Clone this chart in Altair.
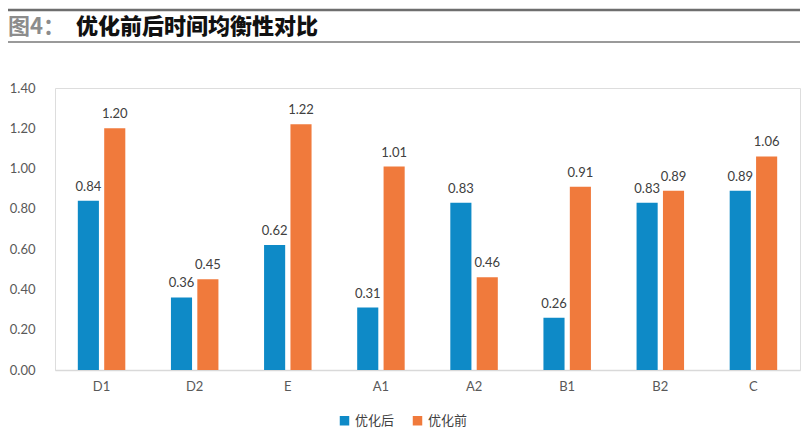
import altair as alt
import pandas as pd

categories = ["D1", "D2", "E", "A1", "A2", "B1", "B2", "C"]
after_vals = [0.84, 0.36, 0.62, 0.31, 0.83, 0.26, 0.83, 0.89]
before_vals = [1.20, 0.45, 1.22, 1.01, 0.46, 0.91, 0.89, 1.06]
series = ["优化后", "优化前"]
colors = ["#0e8ac7", "#f07a3c"]
y_ticks = [0, 0.2, 0.4, 0.6, 0.8, 1.0, 1.2, 1.4]

rows = []
for c, a, b in zip(categories, after_vals, before_vals):
    rows.append({"cat": c, "series": series[0], "value": a})
    rows.append({"cat": c, "series": series[1], "value": b})
df = pd.DataFrame(rows)

FONT = "Lato, 'Noto Sans CJK SC', sans-serif"
CJK = "'Noto Sans CJK SC', sans-serif"

base = alt.Chart(df).encode(
    x=alt.X("cat:N", sort=categories, title=None,
            scale=alt.Scale(paddingInner=0.49, paddingOuter=0.245),
            axis=alt.Axis(labelAngle=0, ticks=False, domain=True, domainColor="#d9d9d9",
                          domainWidth=1.5, labelColor="#595959", labelFontSize=13,
                          labelFont=FONT, labelPadding=10)),
    xOffset=alt.XOffset("series:N", sort=series,
                        scale=alt.Scale(paddingInner=0.2, paddingOuter=0)),
    y=alt.Y("value:Q", title=None,
            scale=alt.Scale(domain=[0, 1.4], nice=False),
            axis=alt.Axis(values=y_ticks, format=".2f", grid=False, domain=False, ticks=False,
                          labelColor="#595959", labelFontSize=13, labelFont=FONT,
                          labelPadding=20)),
)

bars = base.mark_bar().encode(
    color=alt.Color("series:N", sort=series,
                    scale=alt.Scale(domain=series, range=colors),
                    legend=alt.Legend(title=None, orient="none", direction="horizontal",
                                      legendX=283, legendY=326, symbolType="square",
                                      symbolSize=90, labelFontSize=13, labelFont=CJK,
                                      labelColor="#404040", columnPadding=16,
                                      symbolStrokeWidth=0)),
)

labels = base.mark_text(baseline="bottom", dy=-7, fontSize=13, font=FONT, color="#404040").encode(
    text=alt.Text("value:Q", format=".2f"),
)

deco = pd.DataFrame({"d": [0]})
line_top = alt.Chart(deco).mark_rule(color="#6e6e6e", strokeWidth=2.5).encode(
    x=alt.value(-47), x2=alt.value(745), y=alt.value(-78))
line_mid = alt.Chart(deco).mark_rule(color="#9a9a9a", strokeWidth=2).encode(
    x=alt.value(-47), x2=alt.value(745), y=alt.value(-46))
title_a = alt.Chart(deco).mark_text(text="图4：", align="left", baseline="middle",
                                    fontSize=22, font=CJK, fontWeight="bold",
                                    color="#8c8c8c").encode(
    x=alt.value(-47), y=alt.value(-61))
title_b = alt.Chart(deco).mark_text(text="优化前后时间均衡性对比", align="left", baseline="middle",
                                    fontSize=22, font=CJK, fontWeight=900,
                                    color="#111111").encode(
    x=alt.value(21), y=alt.value(-61))

chart = alt.layer(bars, labels, line_top, line_mid, title_a, title_b).properties(
    width=745, height=282,
    autosize=alt.AutoSizeParams(type="none"),
    padding={"left": 47, "top": 80, "right": 3, "bottom": 61},
).configure_view(stroke=None).configure(background="white")

chart.save("out.html", embed_options={"renderer": "svg", "actions": False})
